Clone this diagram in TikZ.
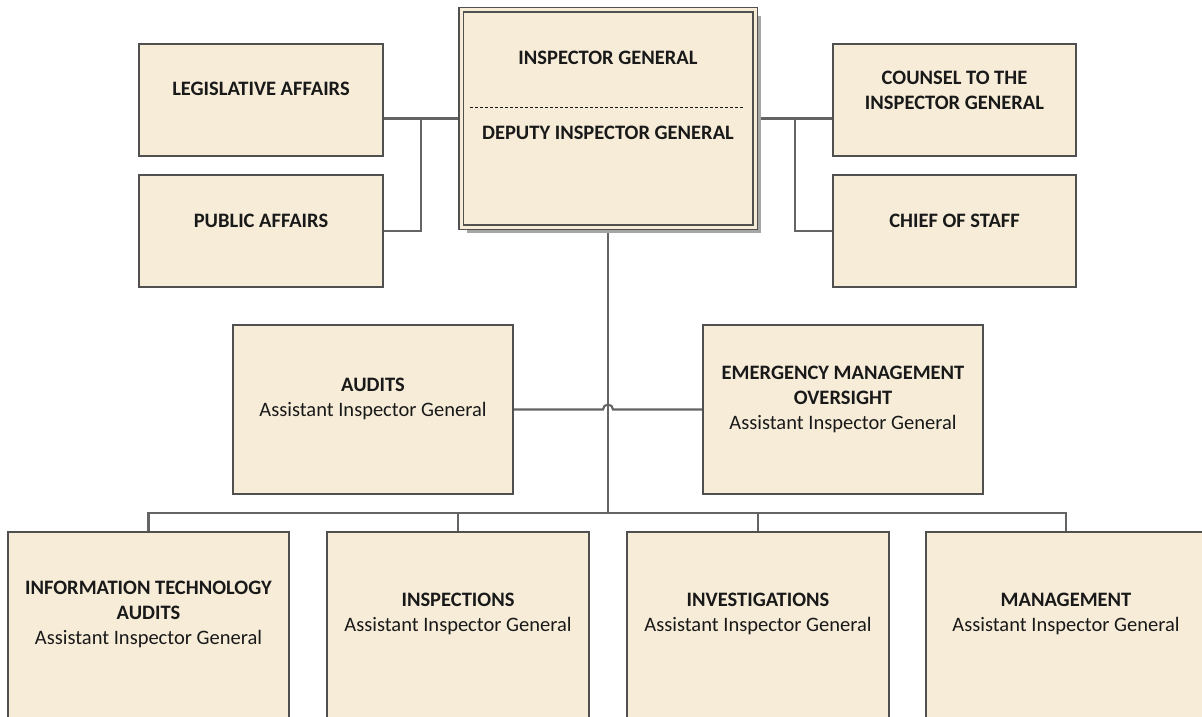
\documentclass[tikz,border=0pt]{standalone}
\usepackage{fontspec}
\setmainfont{Carlito}
\usetikzlibrary{calc,shadows,backgrounds}
\definecolor{boxfill}{RGB}{246,236,216}
\definecolor{boxline}{RGB}{80,80,80}
\definecolor{conn}{RGB}{100,100,100}
\definecolor{txt}{RGB}{25,25,25}
\begin{document}
\begin{tikzpicture}[x=1pt,y=-1pt,
  orgbox/.style={draw=boxline, fill=boxfill, line width=2.1pt, rectangle, inner sep=0pt, outer sep=0pt},
  lbl/.style={font=\fontsize{20.5}{25}\selectfont, text=txt, align=center, inner sep=0pt, anchor=north},
  conline/.style={draw=conn, line width=2.1pt}]
\useasboundingbox (0,0) rectangle (1202,717);
\begin{scope}
\clip (0,0) rectangle (1202,717);
% boxes
\node[orgbox, double=boxfill, double distance=3pt, line width=1.6pt,
      minimum width=294, minimum height=217,
      drop shadow={shadow xshift=6pt, shadow yshift=-6pt, fill=black!35, opacity=1}] (ig) at (608,118.5) {};
\node[orgbox, minimum width=244, minimum height=112] (leg) at (261,100) {};
\node[orgbox, minimum width=244, minimum height=112] (pub) at (261,231) {};
\node[orgbox, minimum width=243, minimum height=112] (cou) at (954.5,100) {};
\node[orgbox, minimum width=243, minimum height=112] (chf) at (954.5,231) {};
\node[orgbox, minimum width=280, minimum height=169] (aud) at (373,409.5) {};
\node[orgbox, minimum width=280, minimum height=169] (emo) at (843,409.5) {};
\node[orgbox, minimum width=281, minimum height=198] (it) at (148.5,631) {};
\node[orgbox, minimum width=262, minimum height=198] (ins) at (458,631) {};
\node[orgbox, minimum width=262, minimum height=198] (inv) at (758,631) {};
\node[orgbox, minimum width=280, minimum height=198] (mgt) at (1066,631) {};
% texts
\node[lbl] (igt) at (608,50.4) {\textbf{INSPECTOR GENERAL}};
\draw[txt, line width=0.9pt, dash pattern=on 3pt off 2pt] (470,107) -- (743,107);
\node[lbl] (digt) at (608,125.4) {\textbf{DEPUTY INSPECTOR GENERAL}};
\node[lbl] (legt) at (261,81.4) {\textbf{LEGISLATIVE AFFAIRS}};
\node[lbl] (pubt) at (261,213.4) {\textbf{PUBLIC AFFAIRS}};
\node[lbl] (cout) at (954.5,70.4) {\textbf{COUNSEL TO THE}\\\textbf{INSPECTOR GENERAL}};
\node[lbl] (chft) at (954.5,213.4) {\textbf{CHIEF OF STAFF}};
\node[lbl] (audt) at (373,377.4) {\textbf{AUDITS}\\Assistant Inspector General};
\node[lbl] (emot) at (843,365.4) {\textbf{EMERGENCY MANAGEMENT}\\\textbf{OVERSIGHT}\\Assistant Inspector General};
\node[lbl] (itt) at (148.5,580.4) {\textbf{INFORMATION TECHNOLOGY}\\\textbf{AUDITS}\\Assistant Inspector General};
\node[lbl] (inst) at (458,592.4) {\textbf{INSPECTIONS}\\Assistant Inspector General};
\node[lbl] (invt) at (758,592.4) {\textbf{INVESTIGATIONS}\\Assistant Inspector General};
\node[lbl] (mgtt) at (1066,592.4) {\textbf{MANAGEMENT}\\Assistant Inspector General};
% connectors
\begin{pgfonlayer}{background}
\coordinate (jl) at (421,118.5);
\coordinate (jr) at (795,118.5);
\coordinate (bus) at (608,513);
\draw[conline] (ig.west) -- (leg.east |- ig.west);
\draw[conline] (jl) |- (pub.east);
\draw[conline] (ig.east) -- (cou.west |- ig.east);
\draw[conline] (jr) |- (chf.west);
\draw[conline] (ig.south) -- (bus);
\draw[conline] (it.north) -- (it.north |- bus) -- (mgt.north |- bus) -- (mgt.north);
\draw[conline] (ins.north) -- (ins.north |- bus);
\draw[conline] (inv.north) -- (inv.north |- bus);
\draw[conline] (aud.east) -- ($(aud.east -| ig.south)+(-5,0)$) arc[start angle=180, end angle=0, radius=5pt] -- (emo.west);
\end{pgfonlayer}
\end{scope}
\end{tikzpicture}
\end{document}
